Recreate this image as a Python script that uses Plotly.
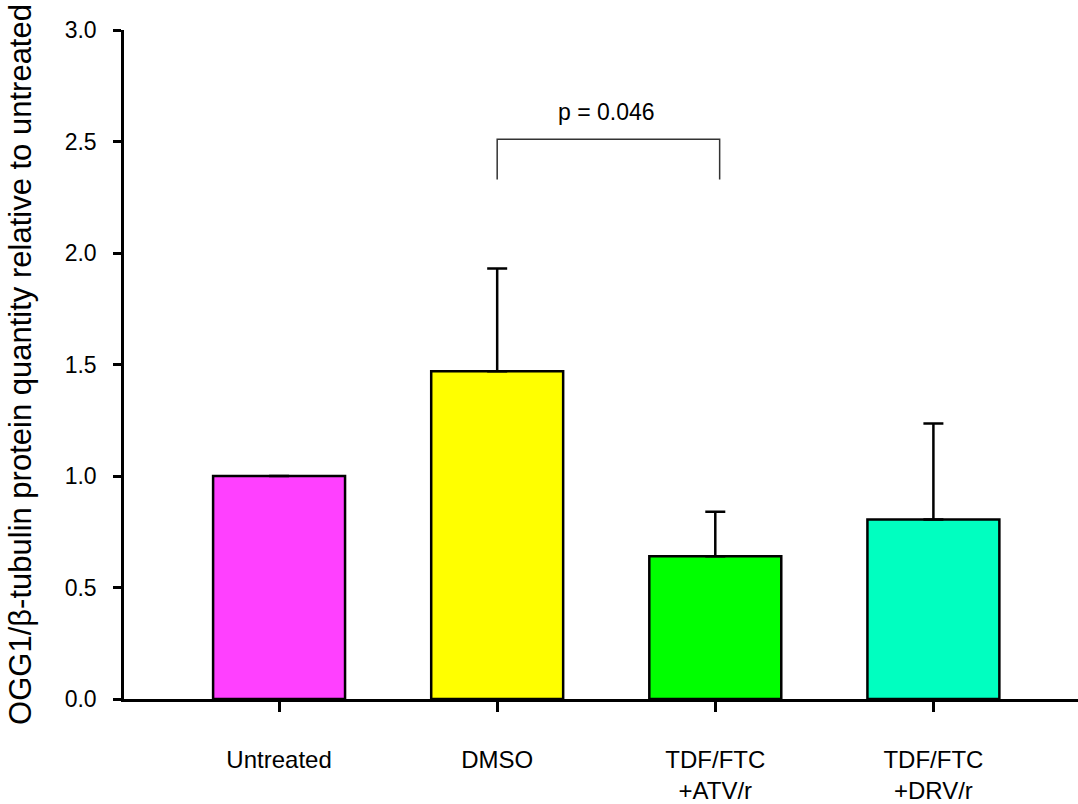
import plotly.graph_objects as go

categories = ["Untreated", "DMSO", "TDF/FTC<br>+ATV/r", "TDF/FTC<br>+DRV/r"]
means = [1.0, 1.47, 0.64, 0.805]
errors_up = [0.0, 0.46, 0.20, 0.43]
bar_colors = ["#FF40FF", "#FFFF00", "#00FF00", "#00FFC0"]
y_ticks = [0.0, 0.5, 1.0, 1.5, 2.0, 2.5, 3.0]
y_tick_labels = ["0.0", "0.5", "1.0", "1.5", "2.0", "2.5", "3.0"]
sig_pair = (1, 2)
sig_label = "p = 0.046"
sig_top = 2.51
sig_bottom = 2.33

xpos = list(range(len(categories)))

fig = go.Figure()
fig.add_trace(go.Bar(
    x=xpos, y=means, width=0.605,
    marker=dict(color=bar_colors, line=dict(color="black", width=2.5)),
    error_y=dict(type="data", symmetric=False, array=errors_up,
                 arrayminus=[0] * len(means), color="black", thickness=2.5, width=10,
                 visible=True),
    showlegend=False,
))

# significance bracket
x0, x1 = sig_pair
fig.add_shape(type="path", xref="x", yref="y",
              path=f"M {x0} {sig_bottom} L {x0} {sig_top} L {x1 + 0.02} {sig_top} L {x1 + 0.02} {sig_bottom}",
              line=dict(color="#333333", width=1.5))
fig.add_annotation(x=(x0 + x1) / 2, y=sig_top, xref="x", yref="y", text=sig_label,
                   showarrow=False, yanchor="bottom", yshift=12,
                   font=dict(family="Liberation Sans, Arial", size=23, color="black"))

fig.update_layout(
    width=1078, height=804,
    margin=dict(l=124, r=0, t=30, b=101),
    paper_bgcolor="white", plot_bgcolor="white",
    font=dict(family="Liberation Sans, Arial", color="black"),
    bargap=0.4,
)
fig.update_xaxes(
    range=[-0.711, 3.663],
    tickmode="array", tickvals=xpos, ticktext=categories,
    showline=True, linecolor="black", linewidth=2.5,
    ticks="outside", ticklen=10, tickwidth=2.5, tickcolor="black",
    tickfont=dict(size=24, color="black"),
    ticklabelstandoff=27,
    showgrid=False, zeroline=False,
)
fig.update_yaxes(
    range=[0, 3.0],
    tickmode="array", tickvals=y_ticks, ticktext=y_tick_labels,
    showline=True, linecolor="black", linewidth=2.5,
    ticks="outside", ticklen=8, tickwidth=2.5, tickcolor="black",
    tickfont=dict(size=23, color="black"),
    ticklabelstandoff=12,
    showgrid=False, zeroline=False,
    title=dict(text="OGG1/β-tubulin protein quantity relative to untreated",
               font=dict(size=31, color="black"), standoff=24),
)

fig.write_html("out.html")
